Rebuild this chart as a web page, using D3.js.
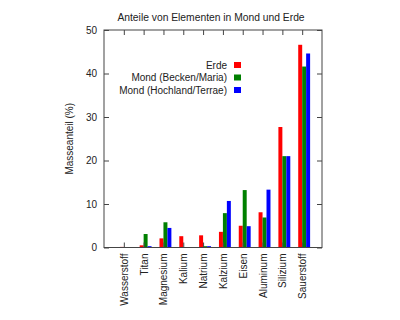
<!DOCTYPE html>
<html>
<head>
<meta charset="utf-8">
<script src="https://cdn.jsdelivr.net/npm/d3@7"></script>
<style>
  body { margin: 0; background: #fff; }
  svg { font-family: "Liberation Sans", Arial, sans-serif; }
</style>
</head>
<body>
<div id="chart"></div>
<script>
// data
var elements = ["Wasserstoff", "Titan", "Magnesium", "Kalium", "Natrium",
  "Kalzium", "Eisen", "Aluminum", "Silizium", "Sauerstoff"];
var erde = [0.14, 0.5, 2.1, 2.6, 2.8, 3.6, 5.0, 8.1, 27.7, 46.6];
var mondMaria = [0.05, 3.1, 5.8, 0.1, 0.3, 7.9, 13.2, 6.9, 21.0, 41.6];
var mondTerrae = [0.05, 0.3, 4.5, 0.1, 0.3, 10.7, 4.9, 13.3, 21.0, 44.6];
var seriesNames = ["Erde", "Mond (Becken/Maria)", "Mond (Hochland/Terrae)"];
var seriesColors = ["#ff0000", "#008000", "#0000ff"];
var yTicks = [0, 10, 20, 30, 40, 50];

var W = 400, H = 320;
var plotLeft = 104, plotRight = 322, plotTop = 30, plotBottom = 247.5;

var svg = d3.select("#chart").append("svg")
  .attr("width", W)
  .attr("height", H);

var x = d3.scaleLinear().domain([-1, elements.length]).range([plotLeft, plotRight]);
var y = d3.scaleLinear().domain([0, 50]).range([plotBottom, plotTop]);

var series = [erde, mondMaria, mondTerrae];
var barW = 0.2;

// bars
series.forEach(function (vals, s) {
  svg.append("g")
    .selectAll("rect")
    .data(vals)
    .enter()
    .append("rect")
    .attr("x", function (d, i) { return x(i + (s - 1) * barW); })
    .attr("width", function (d, i) { return x(i + s * barW) - x(i + (s - 1) * barW); })
    .attr("y", function (d) { return y(d); })
    .attr("height", function (d) { return y(0) - y(d); })
    .attr("fill", seriesColors[s]);
});

var axisColor = "#444";

// y axis left + right mirror
svg.append("g")
  .attr("transform", "translate(" + plotLeft + ",0)")
  .call(d3.axisLeft(y).tickValues(yTicks).tickSizeInner(-5).tickSizeOuter(0).tickPadding(7))
  .call(function (g) {
    g.select(".domain").remove();
    g.selectAll("line").attr("stroke", axisColor);
    g.selectAll("text").attr("font-size", 10).attr("fill", "#222")
      .attr("font-family", "Liberation Sans, Arial, sans-serif");
  });
svg.append("g")
  .attr("transform", "translate(" + plotRight + ",0)")
  .call(d3.axisRight(y).tickValues(yTicks).tickSizeInner(-5).tickSizeOuter(0).tickFormat(""))
  .call(function (g) {
    g.select(".domain").remove();
    g.selectAll("line").attr("stroke", axisColor);
  });

// x axis bottom + top mirror
var xIdx = d3.range(elements.length);
svg.append("g")
  .attr("transform", "translate(0," + plotBottom + ")")
  .call(d3.axisBottom(x).tickValues(xIdx).tickSizeInner(-5).tickSizeOuter(0)
    .tickFormat(function (d) { return elements[d]; }))
  .call(function (g) {
    g.select(".domain").remove();
    g.selectAll("line").attr("stroke", axisColor);
    g.selectAll("text")
      .attr("font-size", 10)
      .attr("fill", "#222")
      .attr("font-family", "Liberation Sans, Arial, sans-serif")
      .attr("text-anchor", "end")
      .attr("transform", "rotate(-90)")
      .attr("x", -6)
      .attr("y", 0)
      .attr("dy", "0.35em");
  });
svg.append("g")
  .attr("transform", "translate(0," + plotTop + ")")
  .call(d3.axisTop(x).tickValues(xIdx).tickSizeInner(-5).tickSizeOuter(0).tickFormat(""))
  .call(function (g) {
    g.select(".domain").remove();
    g.selectAll("line").attr("stroke", axisColor);
  });

// border
svg.append("rect")
  .attr("x", plotLeft)
  .attr("y", plotTop)
  .attr("width", plotRight - plotLeft)
  .attr("height", plotBottom - plotTop)
  .attr("fill", "none")
  .attr("stroke", axisColor)
  .attr("stroke-width", 1);

// title
svg.append("text")
  .attr("x", 211)
  .attr("y", 21)
  .attr("text-anchor", "middle")
  .attr("font-size", 10.3)
  .attr("fill", "#222")
  .text("Anteile von Elementen in Mond und Erde");

// y label
svg.append("text")
  .attr("transform", "translate(73," + (plotTop + plotBottom) / 2 + ") rotate(-90)")
  .attr("text-anchor", "middle")
  .attr("font-size", 10)
  .attr("fill", "#222")
  .text("Masseanteil (%)");

// legend
var legend = svg.selectAll(".legend")
  .data(seriesNames)
  .enter()
  .append("g")
  .attr("class", "legend")
  .attr("transform", function (d, i) { return "translate(0," + (65 + i * 12.5) + ")"; });

legend.append("text")
  .attr("x", 227)
  .attr("y", 0)
  .attr("dy", "0.35em")
  .attr("text-anchor", "end")
  .attr("font-size", 10)
  .attr("fill", "#222")
  .text(function (d) { return d; });

legend.append("rect")
  .attr("x", 234)
  .attr("y", -3)
  .attr("width", 7)
  .attr("height", 6)
  .attr("fill", function (d, i) { return seriesColors[i]; });
</script>
</body>
</html>
